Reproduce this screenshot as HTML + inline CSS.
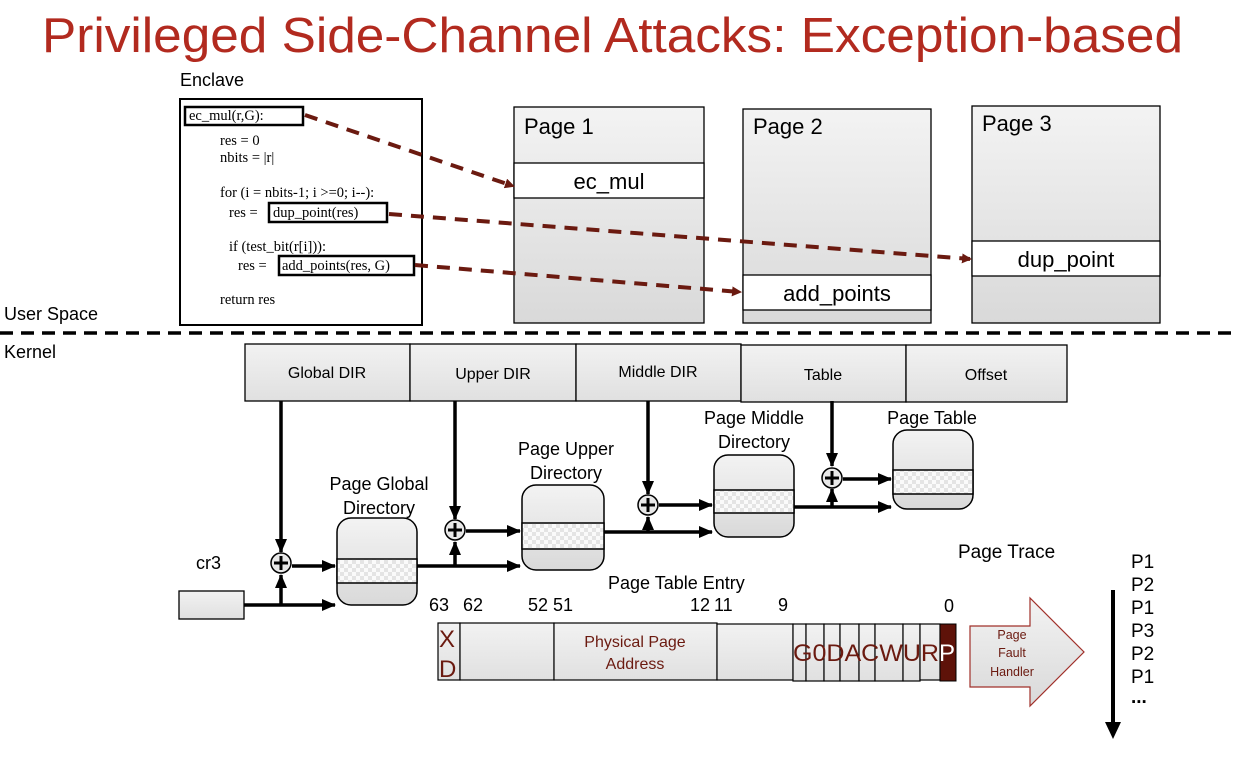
<!DOCTYPE html>
<html><head><meta charset="utf-8"><style>
html,body{margin:0;padding:0;background:#fff;}
svg{display:block;font-family:"Liberation Sans",sans-serif;}
.serif{font-family:"Liberation Serif",serif;}
</style></head><body>
<svg width="1236" height="768" viewBox="0 0 1236 768" xmlns="http://www.w3.org/2000/svg">
<defs>
<linearGradient id="g" x1="0" y1="0" x2="0" y2="1"><stop offset="0" stop-color="#f3f3f3"/><stop offset="1" stop-color="#d9d9d9"/></linearGradient>
<linearGradient id="g2" x1="0" y1="0" x2="0" y2="1"><stop offset="0" stop-color="#f2f2f2"/><stop offset="1" stop-color="#e0e0e0"/></linearGradient>
<pattern id="chk" width="8" height="8" patternUnits="userSpaceOnUse"><rect width="8" height="8" fill="#fafafa"/><rect width="4" height="4" fill="#e4e4e4"/><rect x="4" y="4" width="4" height="4" fill="#e4e4e4"/></pattern>
<marker id="ar" markerWidth="10" markerHeight="10" refX="8" refY="5" orient="auto" markerUnits="userSpaceOnUse"><path d="M0,0 L10,5 L0,10 z" fill="#6b1a10"/></marker>
<marker id="ak" markerWidth="14" markerHeight="12" refX="13" refY="6" orient="auto" markerUnits="userSpaceOnUse"><path d="M0,0 L14,6 L0,12 z" fill="#000"/></marker>
</defs>

<text x="42" y="52" font-size="49" fill="#b22a1f" textLength="1141" lengthAdjust="spacingAndGlyphs">Privileged Side-Channel Attacks: Exception-based</text>
<text x="180" y="86" font-size="18">Enclave</text>

<!-- enclave code -->
<rect x="180" y="99" width="242" height="226" fill="#fff" stroke="#000" stroke-width="2"/>
<g class="serif" font-size="14.5" fill="#000">
<text x="189" y="120">ec_mul(r,G):</text>
<text x="220" y="145">res = 0</text>
<text x="220" y="162">nbits = |r|</text>
<text x="220" y="197">for (i = nbits-1; i &gt;=0; i--):</text>
<text x="229" y="217">res =</text>
<text x="273" y="217">dup_point(res)</text>
<text x="229" y="251">if (test_bit(r[i])):</text>
<text x="238" y="270">res =</text>
<text x="282" y="270">add_points(res, G)</text>
<text x="220" y="304">return res</text>
</g>
<rect x="185" y="107" width="118" height="18" fill="none" stroke="#000" stroke-width="2.5"/>
<rect x="269" y="203" width="118" height="19" fill="none" stroke="#000" stroke-width="2.5"/>
<rect x="279" y="256" width="135" height="19" fill="none" stroke="#000" stroke-width="2.5"/>

<!-- pages -->
<rect x="514" y="107" width="190" height="216" fill="url(#g)" stroke="#000" stroke-width="1.3"/>
<rect x="514" y="163" width="190" height="35" fill="#fff" stroke="#000" stroke-width="1.3"/>
<text x="524" y="134" font-size="22">Page 1</text>
<text x="609" y="189" font-size="22" text-anchor="middle">ec_mul</text>

<rect x="743" y="109" width="188" height="214" fill="url(#g)" stroke="#000" stroke-width="1.3"/>
<rect x="743" y="275" width="188" height="35" fill="#fff" stroke="#000" stroke-width="1.3"/>
<text x="753" y="134" font-size="22">Page 2</text>
<text x="837" y="301" font-size="22" text-anchor="middle">add_points</text>

<rect x="972" y="106" width="188" height="217" fill="url(#g)" stroke="#000" stroke-width="1.3"/>
<rect x="972" y="241" width="188" height="35" fill="#fff" stroke="#000" stroke-width="1.3"/>
<text x="982" y="131" font-size="22">Page 3</text>
<text x="1066" y="267" font-size="22" text-anchor="middle">dup_point</text>

<!-- dashed arrows -->
<g stroke="#6b1a10" stroke-width="4" stroke-dasharray="13,9" fill="none">
<line x1="305" y1="115" x2="513" y2="186" marker-end="url(#ar)"/>
<line x1="389" y1="214" x2="970" y2="259" marker-end="url(#ar)"/>
<line x1="415" y1="265" x2="740" y2="292" marker-end="url(#ar)"/>
</g>

<text x="4" y="320" font-size="18">User Space</text>
<line x1="0" y1="333" x2="1236" y2="333" stroke="#000" stroke-width="3.5" stroke-dasharray="13,8"/>
<text x="4" y="358" font-size="18">Kernel</text>

<!-- header cells -->
<g stroke="#000" stroke-width="1.3" fill="url(#g2)">
<rect x="245" y="344" width="165" height="57"/>
<rect x="410" y="344" width="166" height="57"/>
<rect x="576" y="344" width="165" height="57"/>
<rect x="741" y="345" width="165" height="57"/>
<rect x="906" y="345" width="161" height="57"/>
</g>
<g font-size="16" text-anchor="middle">
<text x="327" y="378">Global DIR</text>
<text x="493" y="379">Upper DIR</text>
<text x="658" y="377">Middle DIR</text>
<text x="823" y="380">Table</text>
<text x="986" y="380">Offset</text>
</g>

<!-- tables -->
<g stroke="#000" stroke-width="1.5">
<rect x="337" y="518" width="80" height="87" rx="14" fill="url(#g)"/>
<rect x="337" y="559" width="80" height="24" fill="url(#chk)"/>
<rect x="522" y="485" width="82" height="85" rx="14" fill="url(#g)"/>
<rect x="522" y="523" width="82" height="26" fill="url(#chk)"/>
<rect x="714" y="455" width="80" height="82" rx="14" fill="url(#g)"/>
<rect x="714" y="490" width="80" height="23" fill="url(#chk)"/>
<rect x="893" y="430" width="80" height="79" rx="14" fill="url(#g)"/>
<rect x="893" y="470" width="80" height="24" fill="url(#chk)"/>
</g>
<g font-size="18" text-anchor="middle">
<text x="379" y="490">Page Global</text><text x="379" y="514">Directory</text>
<text x="566" y="455">Page Upper</text><text x="566" y="479">Directory</text>
<text x="754" y="424">Page Middle</text><text x="754" y="448">Directory</text>
<text x="932" y="424">Page Table</text>
</g>

<!-- cr3 -->
<text x="196" y="569" font-size="18">cr3</text>
<rect x="179" y="591" width="65" height="28" fill="url(#g2)" stroke="#000" stroke-width="1.3"/>

<!-- black connectors -->
<g stroke="#000" stroke-width="3.5" fill="none">
<line x1="281" y1="401" x2="281" y2="552" marker-end="url(#ak)"/>
<line x1="244" y1="605" x2="335" y2="605" marker-end="url(#ak)"/>
<line x1="281" y1="605" x2="281" y2="575" marker-end="url(#ak)"/>
<line x1="292" y1="566" x2="335" y2="566" marker-end="url(#ak)"/>

<line x1="455" y1="401" x2="455" y2="519" marker-end="url(#ak)"/>
<line x1="417" y1="566" x2="520" y2="566" marker-end="url(#ak)"/>
<line x1="455" y1="566" x2="455" y2="542" marker-end="url(#ak)"/>
<line x1="466" y1="531" x2="520" y2="531" marker-end="url(#ak)"/>

<line x1="648" y1="401" x2="648" y2="494" marker-end="url(#ak)"/>
<line x1="604" y1="532" x2="712" y2="532" marker-end="url(#ak)"/>
<line x1="648" y1="532" x2="648" y2="517" marker-end="url(#ak)"/>
<line x1="659" y1="505" x2="712" y2="505" marker-end="url(#ak)"/>

<line x1="832" y1="401" x2="832" y2="466" marker-end="url(#ak)"/>
<line x1="794" y1="507" x2="891" y2="507" marker-end="url(#ak)"/>
<line x1="832" y1="507" x2="832" y2="489" marker-end="url(#ak)"/>
<line x1="843" y1="479" x2="891" y2="479" marker-end="url(#ak)"/>
</g>
<g stroke="#000" stroke-width="1.5" fill="#e8e8e8">
<circle cx="281" cy="563" r="10"/><circle cx="455" cy="530" r="10"/>
<circle cx="648" cy="505" r="10"/><circle cx="832" cy="478" r="10"/>
</g>
<g stroke="#000" stroke-width="3">
<path d="M274,563h14M281,556v14"/><path d="M448,530h14M455,523v14"/>
<path d="M641,505h14M648,498v14"/><path d="M825,478h14M832,471v14"/>
</g>

<!-- PTE -->
<text x="608" y="589" font-size="18">Page Table Entry</text>
<g font-size="18">
<text x="429" y="611">63</text><text x="463" y="611">62</text>
<text x="528" y="611">52 51</text><text x="690" y="611">12</text><text x="714" y="611">11</text>
<text x="778" y="611">9</text><text x="944" y="612">0</text>
</g>
<g stroke="#000" stroke-width="1.2" fill="url(#g2)">
<rect x="438" y="623" width="22" height="57"/>
<rect x="460" y="623" width="94" height="57"/>
<rect x="554" y="623" width="163" height="57"/>
<rect x="717" y="624" width="76" height="56"/>
<rect x="793" y="624" width="13" height="57"/>
<rect x="806" y="624" width="18" height="57"/>
<rect x="824" y="624" width="16" height="57"/>
<rect x="840" y="624" width="19" height="57"/>
<rect x="859" y="624" width="16" height="57"/>
<rect x="875" y="624" width="28" height="57"/>
<rect x="903" y="624" width="17" height="57"/>
<rect x="920" y="624" width="20" height="56"/>
</g>
<rect x="940" y="624" width="16" height="57" fill="#5e1209" stroke="#000"/>
<g fill="#6b1a10" font-size="24">
<text x="439" y="647">X</text><text x="439" y="677">D</text>
<text x="793" y="661" textLength="146" lengthAdjust="spacingAndGlyphs">G0DACWUR</text>
</g>
<text x="939" y="661" font-size="24" fill="#fff">P</text>
<text x="635" y="647" font-size="16" fill="#6b1a10" text-anchor="middle">Physical Page</text>
<text x="635" y="669" font-size="16" fill="#6b1a10" text-anchor="middle">Address</text>

<!-- fault arrow -->
<path d="M970,626 H1030 V598 L1084,652 L1030,706 V687 H970 Z" fill="url(#g)" stroke="#a0302a" stroke-width="1.2"/>
<g font-size="12.5" fill="#6b1a10" text-anchor="middle">
<text x="1012" y="639">Page</text><text x="1012" y="657">Fault</text><text x="1012" y="676">Handler</text>
</g>

<!-- trace -->
<text x="958" y="558" font-size="19">Page Trace</text>
<g font-size="19">
<text x="1131" y="568">P1</text><text x="1131" y="591">P2</text><text x="1131" y="614">P1</text>
<text x="1131" y="637">P3</text><text x="1131" y="660">P2</text><text x="1131" y="683">P1</text>
<text x="1131" y="703" font-weight="bold">...</text>
</g>
<line x1="1113" y1="590" x2="1113" y2="725" stroke="#000" stroke-width="4"/>
<path d="M1105,722 L1121,722 L1113,739 Z" fill="#000"/>
</svg>
</body></html>
